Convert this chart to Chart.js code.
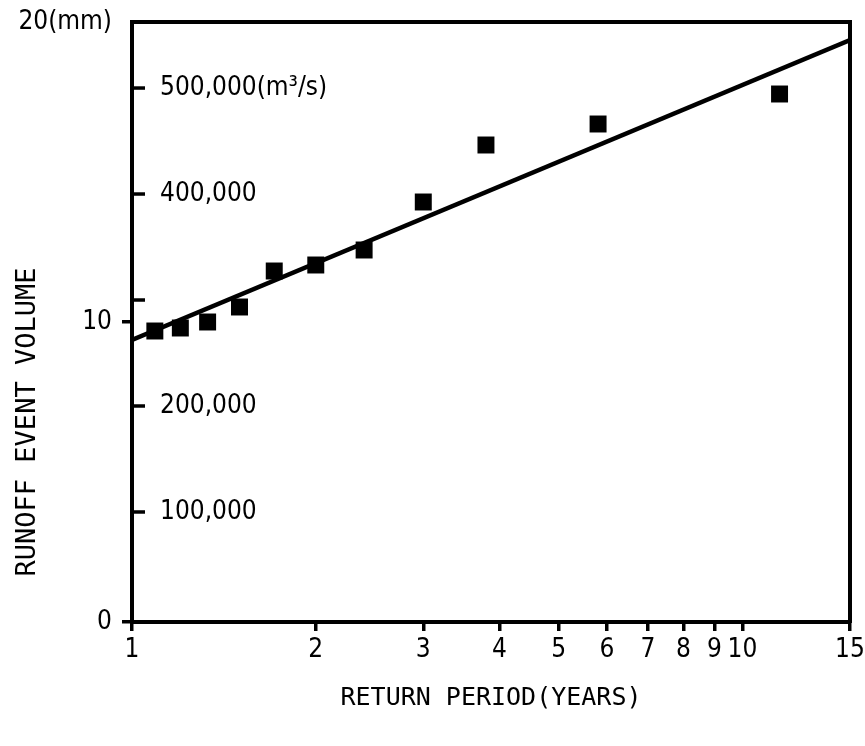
<!DOCTYPE html>
<html><head><meta charset="utf-8">
<script src="https://cdn.jsdelivr.net/npm/chart.js@4.4.1/dist/chart.umd.min.js"></script>
<style>html,body{margin:0;padding:0;background:#fff;}canvas{display:block;}</style>
</head><body>
<canvas id="c" width="865" height="746"></canvas>
<script>
// ---- data ----
const returnPeriods = [1.09, 1.2, 1.33, 1.5, 1.71, 2.0, 2.4, 3.0, 3.8, 5.8, 11.5];
const runoffMm      = [9.7, 9.8, 10.0, 10.5, 11.7, 11.9, 12.4, 14.0, 15.9, 16.6, 17.6];
const fitPeriods    = [1, 15];
const fitMm         = [9.4, 19.4];
const xTickValues   = [1, 2, 3, 4, 5, 6, 7, 8, 9, 10, 15];
const xTickLabels   = ['1', '2', '3', '4', '5', '6', '7', '8', '9', '10', '15'];
const yTickValues   = [0, 10, 20];
const yTickLabels   = ['0', '10', '20(mm)'];
const flowTickValues = [100000, 200000, 300000, 400000, 500000];
const flowTickLabels = ['100,000', '200,000', '', '400,000', '500,000(m\u00B3/s)'];
const xTitle = 'RETURN PERIOD(YEARS)';
const yTitle = 'RUNOFF EVENT VOLUME';

const TICK_FONT    = {family: '"DejaVu Sans Condensed","DejaVu Sans",sans-serif', size: 26};
const XTITLE_FONT  = {family: '"DejaVu Sans Mono",monospace', size: 25};
const YTITLE_FONT  = {family: '"DejaVu Sans Mono",monospace', size: 27};
const INK = '#000';

const innerTicks = {
  id: 'innerTicks',
  afterDatasetsDraw(chart) {
    const s = chart.scales.flow, ca = chart.chartArea, ctx = chart.ctx;
    ctx.save(); ctx.strokeStyle = INK; ctx.lineWidth = 3.5;
    flowTickValues.forEach(v => {
      const y = s.getPixelForValue(v);
      ctx.beginPath(); ctx.moveTo(ca.left, y); ctx.lineTo(ca.left + 13, y); ctx.stroke();
    });
    ctx.restore();
  }
};
const yTitlePlugin = {
  id: 'yTitlePlugin',
  afterDraw(chart) {
    const ctx = chart.ctx;
    ctx.save();
    ctx.font = YTITLE_FONT.size + 'px ' + YTITLE_FONT.family;
    ctx.fillStyle = INK; ctx.textAlign = 'center'; ctx.textBaseline = 'middle';
    ctx.translate(28, 422); ctx.rotate(-Math.PI / 2);
    ctx.fillText(yTitle, 0, 0);
    ctx.restore();
  }
};
const noPad = s => { s.paddingTop = 0; s.paddingBottom = 0; s.paddingLeft = 0; s.paddingRight = 0; };

new Chart(document.getElementById('c'), {
  data: {
    datasets: [
      { type: 'line', data: fitPeriods.map((x, i) => ({x, y: fitMm[i]})),
        borderColor: INK, borderWidth: 4.5, pointRadius: 0, fill: false, order: 2 },
      { type: 'scatter', data: returnPeriods.map((x, i) => ({x, y: runoffMm[i]})),
        pointStyle: 'rect', pointRadius: 12, backgroundColor: INK, borderWidth: 0, order: 1 }
    ]
  },
  options: {
    responsive: false, animation: false,
    layout: { padding: {top: 22, right: 15, left: 0, bottom: 0} },
    plugins: { legend: {display: false}, tooltip: {enabled: false} },
    scales: {
      x: {
        type: 'logarithmic', position: 'bottom', min: 1, max: 15,
        afterBuildTicks: s => { s.ticks = xTickValues.map(v => ({value: v})); },
        ticks: { autoSkip: false, maxRotation: 0, font: TICK_FONT, color: INK, padding: 4,
                 callback: v => xTickLabels[xTickValues.indexOf(v)] },
        grid: { drawOnChartArea: false, drawTicks: true, tickLength: 9, lineWidth: 3.5, color: INK },
        border: { display: true, width: 4, color: INK },
        title: { display: true, text: xTitle, font: XTITLE_FONT, color: INK, padding: {top: 0, bottom: 33} },
        afterFit: s => { s.height = 124; noPad(s); }
      },
      xTop: {
        type: 'linear', position: 'top', display: true,
        grid: { display: false, drawTicks: false }, ticks: { display: false },
        border: { display: true, width: 4, color: INK },
        afterFit: s => { s.height = 0; noPad(s); }
      },
      y: {
        type: 'linear', position: 'left', weight: 1, min: 0, max: 20,
        afterBuildTicks: s => { s.ticks = yTickValues.map(v => ({value: v})); },
        ticks: { font: TICK_FONT, color: INK, padding: 10,
                 callback: v => yTickLabels[yTickValues.indexOf(v)] },
        grid: { drawOnChartArea: false, drawTicks: true, tickLength: 10, lineWidth: 3.5,
                color: c => (c.tick && c.tick.value === 20) ? 'rgba(0,0,0,0)' : INK },
        border: { display: true, width: 4, color: INK },
        afterFit: s => { s.width = 132; noPad(s); }
      },
      flow: {
        type: 'linear', position: 'left', weight: 0, min: -3800, max: 562300,
        afterBuildTicks: s => { s.ticks = flowTickValues.map(v => ({value: v})); },
        ticks: { mirror: true, padding: 28, font: TICK_FONT, color: INK,
                 callback: v => flowTickLabels[flowTickValues.indexOf(v)] },
        grid: { display: false, drawTicks: false },
        border: { display: false },
        afterFit: s => { s.width = 0; noPad(s); }
      },
      yRight: {
        type: 'linear', position: 'right', display: true,
        grid: { display: false, drawTicks: false }, ticks: { display: false },
        border: { display: true, width: 4, color: INK },
        afterFit: s => { s.width = 0; noPad(s); }
      }
    }
  },
  plugins: [innerTicks, yTitlePlugin]
});
</script>
</body></html>
